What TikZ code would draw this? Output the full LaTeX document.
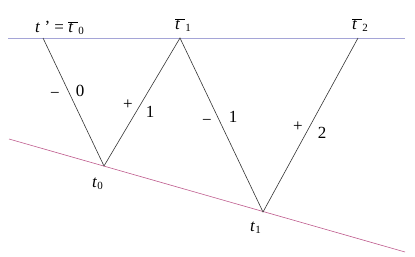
\documentclass[tikz,border=0pt]{standalone}
\usepackage{fontspec}
\setmainfont{Liberation Serif}
\newfontfamily\labfont{Liberation Serif}
\definecolor{toplinecol}{RGB}{165,165,215}
\definecolor{botlinecol}{RGB}{190,90,140}
\newcommand{\tbar}[1]{\rlap{\raisebox{1.25ex}{\rule{0.55em}{0.6pt}}}\textit{t}\hspace{0.3em}\raisebox{-0.3ex}{\fontsize{11}{13}\selectfont #1}}
\newcommand{\tsub}[1]{\textit{t}\raisebox{-0.3ex}{\fontsize{11}{13}\selectfont #1}}

\begin{document}
\begin{tikzpicture}[x=1pt,y=-1pt,font=\labfont\fontsize{17}{19}\selectfont,
  vline/.style={black!80, line width=0.6pt},
  lbl/.style={inner sep=0pt, anchor=base west}]
\useasboundingbox (0,0) rectangle (415,257);

% horizontal reference line
\coordinate (topL) at (8,38);
\coordinate (topR) at (405,38);
\draw[toplinecol, line width=0.8pt] (topL) -- (topR);

% slanted line
\coordinate (botL) at (9,139);
\coordinate (botR) at (405,252);
\draw[botlinecol, line width=0.6pt] (botL) -- (botR);

% corner points
\coordinate (tb0) at (43,38);
\coordinate (tb1) at (180,38);
\coordinate (tb2) at (358,38);
\coordinate (t0) at (104,166);
\coordinate (t1) at (263,212);

% zig-zag
\draw[vline] (tb0) -- (t0) -- (tb1) -- (t1) -- (tb2);

% point labels
\node[lbl] (labtb0) at (35,32) {\textit{t} ’ = \tbar{0}};
\node[lbl] (labtb1) at (175,29) {\tbar{1}};
\node[lbl] (labtb2) at (352,29) {\tbar{2}};
\node[lbl] (labt0) at (92,187) {\tsub{0}};
\node[lbl] (labt1) at (250,231) {\tsub{1}};

% edge labels
\node (m0) at (55,95) {−};
\node (n0) at (80,91) {0};
\node (p1) at (128,105) {+};
\node (n1) at (150,112) {1};
\node (m1) at (207,122) {−};
\node (n2) at (233,117) {1};
\node (p2) at (298,127) {+};
\node (n3) at (322,133) {2};

\end{tikzpicture}
\end{document}
